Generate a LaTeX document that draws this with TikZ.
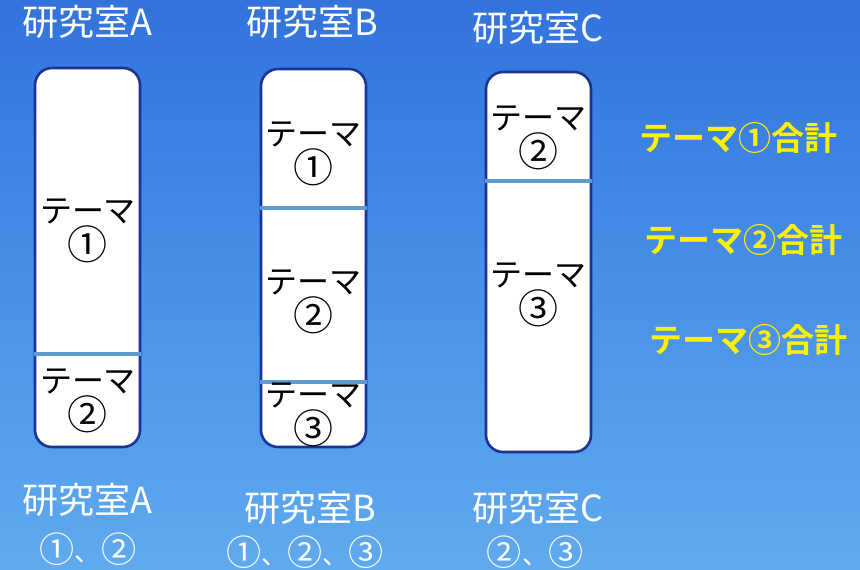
\documentclass[tikz,border=0pt]{standalone}
\usepackage{fontspec}
\setmainfont{Noto Sans CJK JP}
\newfontfamily\jpbold{Noto Sans CJK JP}[BoldFont={* Bold}]
\definecolor{skytop}{RGB}{50,115,220}
\definecolor{skymid}{RGB}{72,144,232}
\definecolor{skybot}{RGB}{96,170,238}
\definecolor{boxborder}{RGB}{26,52,150}
\definecolor{divider}{RGB}{95,155,210}
\definecolor{sumyellow}{RGB}{255,240,0}
\newcommand{\cnum}[1]{\scalebox{1.25}{#1}}
\newcommand{\cbig}[1]{\raisebox{-1pt}{\scalebox{1.35}{#1}}}
\tikzset{
  labbox/.style={draw=boxborder, line width=2.6pt, fill=white, rounded corners=17pt},
  divline/.style={draw=divider, line width=4pt},
  labtitle/.style={text=white, font=\fontsize{36}{40}\selectfont, inner sep=0pt, anchor=center},
  cnumline/.style={text=white, font=\fontsize{26}{30}\selectfont, inner sep=0pt, anchor=center},
  themetext/.style={text=black, font=\fontsize{32}{33}\selectfont, align=center, inner sep=0pt, anchor=center},
  sumtext/.style={text=sumyellow, font=\jpbold\bfseries\fontsize{33}{36}\selectfont, inner sep=0pt, anchor=center}
}
\begin{document}
\begin{tikzpicture}[x=1pt,y=-1pt]
\useasboundingbox (0,0) rectangle (860,570);
\shade[top color=skytop, bottom color=skybot, middle color=skymid] (0,0) rectangle (860,570);
% top titles
\node[labtitle] (ta) at (87,22) {研究室A};
\node[labtitle] (tb) at (312,22) {研究室B};
\node[labtitle] (tc) at (538,28) {研究室C};
% boxes
\draw[labbox] (35,68) rectangle (140,447);
\draw[labbox] (261,69) rectangle (366,447);
\draw[labbox] (486,72) rectangle (591,452);
% dividers
\coordinate (a1l) at (34,354); \coordinate (a1r) at (141,354);
\coordinate (b1l) at (260,208); \coordinate (b1r) at (367,208);
\coordinate (b2l) at (260,382); \coordinate (b2r) at (367,382);
\coordinate (c1l) at (485,181); \coordinate (c1r) at (592,181);
\draw[divline] (a1l) -- (a1r);
\draw[divline] (b1l) -- (b1r);
\draw[divline] (b2l) -- (b2r);
\draw[divline] (c1l) -- (c1r);
% theme texts
\node[themetext] (a1) at (88,231) {テーマ\\\cnum{①}};
\node[themetext] (a2) at (88,401) {テーマ\\\cnum{②}};
\node[themetext] (b1) at (313,154) {テーマ\\\cnum{①}};
\node[themetext] (b2) at (313,302) {テーマ\\\cnum{②}};
\node[themetext] (b3) at (313,415) {テーマ\\\cnum{③}};
\node[themetext] (c1) at (538,138) {テーマ\\\cnum{②}};
\node[themetext] (c2) at (538,295) {テーマ\\\cnum{③}};
% sums
\node[sumtext] (s1) at (738,138) {テーマ①合計};
\node[sumtext] (s2) at (743,240) {テーマ②合計};
\node[sumtext] (s3) at (748,340) {テーマ③合計};
% bottom labels
\node[labtitle] (ba) at (87,500) {研究室A};
\node[cnumline] (bam) at (88,549) {\cbig{①}、\cbig{②}};
\node[labtitle] (bb) at (310,508) {研究室B};
\node[cnumline] (bbm) at (305,552) {\cbig{①}、\cbig{②}、\cbig{③}};
\node[labtitle] (bc) at (538,508) {研究室C};
\node[cnumline] (bcm) at (535,552) {\cbig{②}、\cbig{③}};
\end{tikzpicture}
\end{document}
